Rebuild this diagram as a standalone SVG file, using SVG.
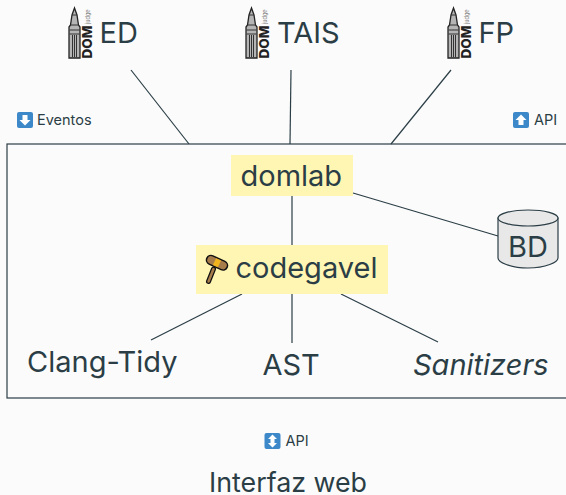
<svg xmlns="http://www.w3.org/2000/svg" width="566" height="495" viewBox="0 0 566 495">
<style>
text{font-family:Inter,"Noto Sans","Liberation Sans",sans-serif;fill:#2b3e46}
.big{font-size:29px}
.small{font-size:14.5px}
.c{stroke:#2b3e46;stroke-width:1.2;fill:none}
.hl{fill:#fff6b4}
.lg{font-weight:800;font-size:13.500px;fill:#222}
.badge{fill:#3d88c9}
.ar{fill:#fff}
</style>
<defs>
<g id="tower">
<path d="M0 55V24L1.500 22 3 12 5.500 5 8 12 9.500 22 11 24V55Z" fill="#b5b5b5" stroke="#222" stroke-width="1.300"/>
<path d="M3 12H8M1.500 22H9.500M0.500 27H10.500M0.500 31H10.500M3.500 32V54M5.500 32V54M7.500 32V54" stroke="#333" stroke-width="1" fill="none"/>
<text class="lg" transform="translate(22.500 55.500) rotate(-90)">DOM</text>
<text transform="translate(20.500 21) rotate(-90)" style="font-size:5.500px;fill:#777">judge</text>
</g>
</defs>
<rect width="566" height="495" fill="#fbfbfb"/>
<g id="connectors">
<line class="c" x1="131" y1="70" x2="189" y2="144"/>
<line class="c" x1="291" y1="70" x2="290" y2="144"/>
<line class="c" x1="451" y1="70" x2="391" y2="144"/>
<line class="c" x1="292" y1="196" x2="292" y2="245"/>
<line class="c" x1="353" y1="193" x2="498" y2="236"/>
<line class="c" x1="242" y1="294" x2="151" y2="340"/>
<line class="c" x1="292" y1="294" x2="292" y2="343"/>
<line class="c" x1="341" y1="294" x2="438" y2="342"/>
</g>
<g id="boundary"><rect x="7" y="144" width="570" height="254" fill="none" stroke="#2b3e46" stroke-width="1.200"/></g>
<g id="ed"><use href="#tower" x="69" y="3"/><text class="big" x="99.500" y="43">ED</text></g>
<g id="tais"><use href="#tower" x="246" y="3"/><text class="big" x="277" y="43">TAIS</text></g>
<g id="fp"><use href="#tower" x="448" y="3"/><text class="big" x="478.500" y="43">FP</text></g>
<g id="eventos"><rect class="badge" x="17" y="112" width="16" height="16" rx="2"/><path class="ar" d="M22.500 115H27.500V120H30.500L25 125.500 19.500 120H22.500Z"/><text class="small" x="37" y="125">Eventos</text></g>
<g id="api-top"><rect class="badge" x="513" y="112" width="16" height="16" rx="2"/><path class="ar" d="M518.500 125H523.500V120H526.500L521 114.500 515.500 120H518.500Z"/><text class="small" x="534" y="125">API</text></g>
<g id="domlab"><rect class="hl" x="231" y="155" width="122" height="41"/><text class="big" x="240.500" y="186">domlab</text></g>
<g id="codegavel"><rect class="hl" x="196" y="245" width="192" height="49"/>
<path d="M208.500 281.500L213.500 269" stroke="#111" stroke-width="5" stroke-linecap="round"/><path d="M208.500 281.500L213.500 269" stroke="#a67c4a" stroke-width="2.500" stroke-linecap="round"/>
<path d="M211 260L223 265.500" stroke="#111" stroke-width="10.500" stroke-linecap="round"/><path d="M211 260L223 265.500" stroke="#a67c4a" stroke-width="7.500" stroke-linecap="round"/><path d="M214.500 261.600L219.500 263.900" stroke="#f0b41e" stroke-width="7.500"/>
<text class="big" x="235.500" y="278">codegavel</text></g>
<g id="bd"><path d="M498 218V258C498 262 510 268 528 268S558 262 558 258V218Z" fill="#e8e8e8" stroke="#2b3e46" stroke-width="1.200"/><ellipse cx="528" cy="218" rx="30" ry="8" fill="#e8e8e8" stroke="#2b3e46" stroke-width="1.200"/><text class="big" x="528" y="257" text-anchor="middle">BD</text></g>
<g id="clang"><text class="big" x="27" y="372">Clang-Tidy</text></g>
<g id="ast"><text class="big" x="262.500" y="375">AST</text></g>
<g id="sanitizers"><text class="big" x="413" y="375" font-style="italic">Sanitizers</text></g>
<g id="api-bottom"><rect class="badge" x="264.500" y="433" width="16" height="16" rx="2"/><path class="ar" d="M272.500 434.500L277 439H274.500V443H277L272.500 447.500 268 443H270.500V439H268Z"/><text class="small" x="285.500" y="446">API</text></g>
<g id="web"><text x="209" y="492" style="font-size:26.800px">Interfaz web</text></g>
</svg>
